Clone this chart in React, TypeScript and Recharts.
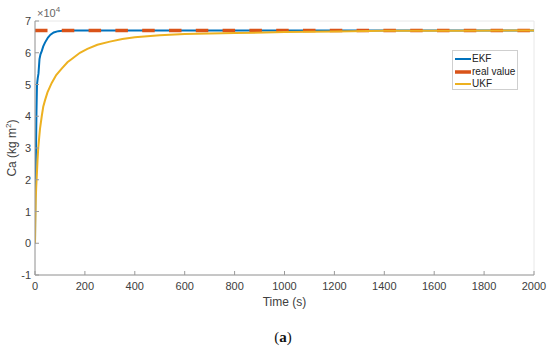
import React from 'react';
import { LineChart, Line, XAxis, YAxis, CartesianGrid, Legend } from 'recharts';

// ---- data (values in units of 10^4 kg m^2) ----
const ekfTime = [0, 1, 2, 4, 6, 8, 11, 14, 18, 22, 27, 33, 40, 52, 62, 75, 93, 120, 2000];
const ekfValues = [0, 1.2, 2.0, 3.0, 4.2, 5.0, 5.2, 5.35, 5.8, 5.95, 6.05, 6.2, 6.32, 6.48, 6.57, 6.64, 6.68, 6.7, 6.7];
const ukfTime = [0, 1, 2, 3, 5, 7, 10, 13, 17, 20, 27, 33, 40, 50, 67, 85, 107, 130, 150, 180, 210, 250, 300, 350, 400, 500, 600, 700, 800, 1000, 1200, 1400, 1700, 2000];
const ukfValues = [0, 0.6, 1.0, 1.4, 1.8, 2.1, 2.6, 3.0, 3.35, 3.6, 4.0, 4.3, 4.5, 4.75, 5.05, 5.3, 5.5, 5.7, 5.82, 6.0, 6.12, 6.25, 6.35, 6.43, 6.49, 6.55, 6.59, 6.61, 6.62, 6.65, 6.67, 6.69, 6.695, 6.7];
const realTime = [0, 2000];
const realValues = [6.7, 6.7];
const xTicks = [0, 200, 400, 600, 800, 1000, 1200, 1400, 1600, 1800, 2000];
const yTicks = [-1, 0, 1, 2, 3, 4, 5, 6, 7];
const seriesNames = ['EKF', 'real value', 'UKF'];

const ekfData = ekfTime.map((t, i) => ({ t, v: ekfValues[i] }));
const ukfData = ukfTime.map((t, i) => ({ t, v: ukfValues[i] }));
const realData = realTime.map((t, i) => ({ t, v: realValues[i] }));

const FONT = '"Liberation Sans", Arial, Helvetica, sans-serif';
const AXIS = '#9a9a9a';
const TXT = '#404040';
const COLORS = ['#0072BD', '#D95319', '#EDB120'];

const XTickBottom = (props: any) => {
  const { x, y, payload } = props;
  return (
    <g>
      <line x1={x} y1={y} x2={x} y2={y - 4} stroke={AXIS} strokeWidth={1} />
      <text x={x} y={y + 15} textAnchor="middle" fontSize={11} fill={TXT} fontFamily={FONT}>
        {payload.value}
      </text>
    </g>
  );
};
const XTickTop = (props: any) => {
  const { x, y } = props;
  return <line x1={x} y1={y} x2={x} y2={y + 4} stroke={AXIS} strokeWidth={1} />;
};
const YTickLeft = (props: any) => {
  const { x, y, payload } = props;
  return (
    <g>
      <line x1={x} y1={y} x2={x + 4} y2={y} stroke={AXIS} strokeWidth={1} />
      <text x={x - 4} y={y + 4} textAnchor="end" fontSize={11} fill={TXT} fontFamily={FONT}>
        {payload.value}
      </text>
    </g>
  );
};
const YTickRight = (props: any) => {
  const { x, y } = props;
  return <line x1={x} y1={y} x2={x - 4} y2={y} stroke={AXIS} strokeWidth={1} />;
};

const renderLegend = () => (
  <div
    style={{
      width: 66,
      height: 40,
      border: '1px solid #cfcfcf',
      background: '#fff',
      boxSizing: 'border-box',
      position: 'relative',
      fontFamily: FONT,
      fontSize: 10,
      color: '#222',
    }}
  >
    {seriesNames.map((name, i) => (
      <div
        key={name}
        style={{ position: 'absolute', left: 2, top: 2 + i * 12.5, height: 12, display: 'flex', alignItems: 'center', whiteSpace: 'nowrap' }}
      >
        <svg width={16} height={4} style={{ display: 'block' }}>
          <line x1={0} y1={2} x2={16} y2={2} stroke={COLORS[i]} strokeWidth={i === 1 ? 3.5 : 2} />
        </svg>
        <span style={{ marginLeft: 1, lineHeight: '12px' }}>{name}</span>
      </div>
    ))}
  </div>
);

export default function App() {
  return (
    <div style={{ position: 'absolute', left: 0, top: 0, width: 550, height: 349, background: '#fff' }}>
      <LineChart width={550} height={349} margin={{ top: 21, right: 16, bottom: 0, left: 0 }}>
        <CartesianGrid stroke="#e8e8e8" strokeWidth={1} />
        <XAxis
          xAxisId="b"
          type="number"
          dataKey="t"
          domain={[0, 2000]}
          ticks={xTicks}
          allowDataOverflow
          height={74}
          tickSize={0}
          tickMargin={0}
          tickLine={false}
          axisLine={{ stroke: AXIS }}
          tick={<XTickBottom />}
          interval={0}
        />
        <XAxis
          xAxisId="t"
          orientation="top"
          type="number"
          dataKey="t"
          domain={[0, 2000]}
          ticks={xTicks}
          height={0}
          tickSize={0}
          tickMargin={0}
          tickLine={false}
          axisLine={{ stroke: AXIS }}
          tick={<XTickTop />}
          interval={0}
        />
        <YAxis
          yAxisId="l"
          type="number"
          domain={[-1, 7]}
          ticks={yTicks}
          width={35}
          tickSize={0}
          tickMargin={0}
          tickLine={false}
          axisLine={{ stroke: AXIS }}
          tick={<YTickLeft />}
          interval={0}
        />
        <YAxis
          yAxisId="r"
          orientation="right"
          type="number"
          domain={[-1, 7]}
          ticks={yTicks}
          width={0}
          tickSize={0}
          tickMargin={0}
          tickLine={false}
          axisLine={{ stroke: AXIS }}
          tick={<YTickRight />}
          interval={0}
        />
        <Line xAxisId="b" yAxisId="l" data={ekfData} dataKey="v" name="EKF" type="linear" stroke={COLORS[0]} strokeWidth={2} dot={false} isAnimationActive={false} />
        <Line xAxisId="b" yAxisId="l" data={realData} dataKey="v" name="real value" type="linear" stroke={COLORS[1]} strokeWidth={3.5} strokeDasharray="12.5 14.3" dot={false} isAnimationActive={false} />
        <Line xAxisId="b" yAxisId="l" data={ukfData} dataKey="v" name="UKF" type="linear" stroke={COLORS[2]} strokeWidth={2} dot={false} isAnimationActive={false} />
        <Legend
          layout="horizontal"
          verticalAlign="middle"
          align="center"
          content={renderLegend}
          wrapperStyle={{ position: 'absolute', left: 452, top: 50, width: 66, height: 40 }}
        />
        <text x={37} y={17} fontSize={11} fill="#666" fontFamily={FONT}>
          ×10<tspan fontSize={8} dy={-5}>4</tspan>
        </text>
        <text transform="translate(16,148) rotate(-90)" textAnchor="middle" fontSize={12} fill={TXT} fontFamily={FONT}>
          Ca (kg m<tspan fontSize={8} dy={-5}>2</tspan><tspan dy={5}>)</tspan>
        </text>
        <text x={284.5} y={306} textAnchor="middle" fontSize={12} fill={TXT} fontFamily={FONT}>
          Time (s)
        </text>
        <text x={283} y={342} textAnchor="middle" fontSize={15} fill="#111" fontFamily='"Liberation Serif", "Times New Roman", serif'>
          (<tspan fontWeight="bold">a</tspan>)
        </text>
      </LineChart>
    </div>
  );
}
